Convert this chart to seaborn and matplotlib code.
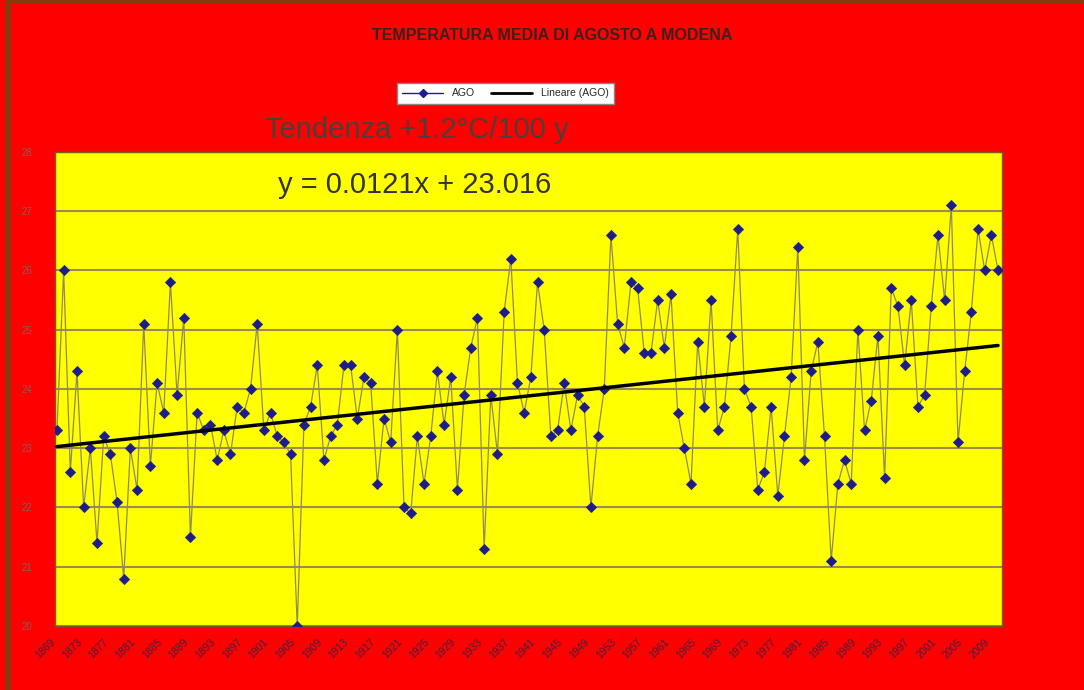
import numpy as np
import pandas as pd
import matplotlib
matplotlib.use("Agg")
import matplotlib.pyplot as plt
from matplotlib.lines import Line2D
import seaborn as sns

# August mean temperature, Modena
years = list(range(1869, 2011))
temps = [
    23.3, 26.0, 22.6, 24.3, 22.0, 23.0, 21.4, 23.2, 22.9, 22.1,
    20.8, 23.0, 22.3, 25.1, 22.7, 24.1, 23.6, 25.8, 23.9, 25.2,
    21.5, 23.6, 23.3, 23.4, 22.8, 23.3, 22.9, 23.7, 23.6, 24.0,
    25.1, 23.3, 23.6, 23.2, 23.1, 22.9, 20.0, 23.4, 23.7, 24.4,
    22.8, 23.2, 23.4, 24.4, 24.4, 23.5, 24.2, 24.1, 22.4, 23.5,
    23.1, 25.0, 22.0, 21.9, 23.2, 22.4, 23.2, 24.3, 23.4, 24.2,
    22.3, 23.9, 24.7, 25.2, 21.3, 23.9, 22.9, 25.3, 26.2, 24.1,
    23.6, 24.2, 25.8, 25.0, 23.2, 23.3, 24.1, 23.3, 23.9, 23.7,
    22.0, 23.2, 24.0, 26.6, 25.1, 24.7, 25.8, 25.7, 24.6, 24.6,
    25.5, 24.7, 25.6, 23.6, 23.0, 22.4, 24.8, 23.7, 25.5, 23.3,
    23.7, 24.9, 26.7, 24.0, 23.7, 22.3, 22.6, 23.7, 22.2, 23.2,
    24.2, 26.4, 22.8, 24.3, 24.8, 23.2, 21.1, 22.4, 22.8, 22.4,
    25.0, 23.3, 23.8, 24.9, 22.5, 25.7, 25.4, 24.4, 25.5, 23.7,
    23.9, 25.4, 26.6, 25.5, 27.1, 23.1, 24.3, 25.3, 26.7, 26.0,
    26.6, 26.0,
]
y_ticks = [20, 21, 22, 23, 24, 25, 26, 27, 28]

# Excel linear trendline (x = 1..n)
SLOPE = 0.0121
INTERCEPT = 23.016

df = pd.DataFrame({"idx": np.arange(len(temps)), "year": years, "temp": temps})
df["trend"] = INTERCEPT + SLOPE * (df["idx"] + 1)

sns.set_style("white")
plt.rcParams["font.family"] = ["Liberation Sans", "DejaVu Sans"]

fig, ax = plt.subplots(figsize=(10.84, 6.9), dpi=100)
fig.patch.set_facecolor("#ff0000")
ax.set_position([0.0507, 0.0928, 0.8737, 0.6869])
ax.set_facecolor("#ffff00")

sns.lineplot(data=df, x="idx", y="temp", ax=ax, color="#8f8a5e", lw=0.9, zorder=3)
sns.scatterplot(data=df, x="idx", y="temp", ax=ax, marker="D", s=28,
                color="#1c1c8a", edgecolor="#1c1c8a", zorder=4)
sns.lineplot(data=df, x="idx", y="trend", ax=ax, color="black", lw=2.5, zorder=5)

ax.set_xlim(-0.3, len(temps) - 0.4)
ax.set_ylim(y_ticks[0], y_ticks[-1])
ax.set_yticks(y_ticks)
ax.set_yticklabels([str(t) for t in y_ticks], fontsize=7, color="#8a5a5a")
ax.yaxis.grid(True, color="#9c8c4c", lw=1.5)
ax.set_axisbelow(True)
ax.tick_params(axis="y", length=4, color="#9c8c4c", pad=12)

tick_idx = df["idx"][::4]
ax.set_xticks(tick_idx)
ax.set_xticklabels(df["year"][::4], rotation=45, ha="right", fontsize=7.5,
                   color="#402040")
ax.tick_params(axis="x", length=0, pad=8)
ax.set_xlabel("")
ax.set_ylabel("")
for s in ax.spines.values():
    s.set_color("#7a5a20")
    s.set_linewidth(1)

fig.text(0.509, 0.949, "TEMPERATURA MEDIA DI AGOSTO A MODENA", ha="center",
         va="center", fontsize=11.5, fontweight="bold", color="#3a2020")
fig.text(0.2445, 0.812, "Tendenza +1.2°C/100 y", ha="left", va="center",
         fontsize=21, color="#4a4038")
fig.text(0.2565, 0.732, f"y = {SLOPE}x + {INTERCEPT}", ha="left", va="center",
         fontsize=21, color="#333333")

handles = [
    Line2D([], [], color="#1c1c8a", marker="D", ms=4, lw=1, label="AGO"),
    Line2D([], [], color="black", lw=2, label="Lineare (AGO)"),
]
leg = fig.legend(handles=handles, loc="center", bbox_to_anchor=(0.466, 0.8645),
                 ncol=2, fontsize=7.5, frameon=True, fancybox=False,
                 edgecolor="#888888", facecolor="white", framealpha=1,
                 handlelength=4, borderpad=0.5, columnspacing=1.5)

# brown frame on left and top
fig.add_artist(Line2D([0.0075, 0.0075], [0, 1], transform=fig.transFigure,
                      color="#7b3f10", lw=4))
fig.add_artist(Line2D([0.0075, 1], [0.998, 0.998], transform=fig.transFigure,
                      color="#7b3f10", lw=2))

fig.savefig("out.png", dpi=100, facecolor=fig.get_facecolor())
